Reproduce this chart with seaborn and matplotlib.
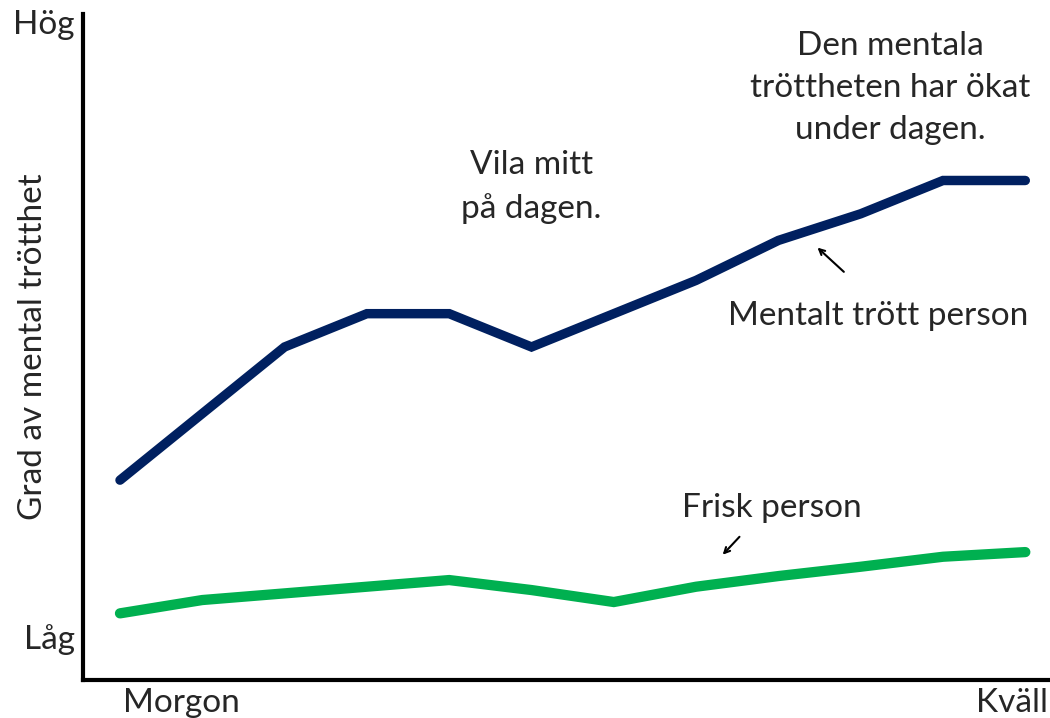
import numpy as np
import pandas as pd
import seaborn as sns
import matplotlib.pyplot as plt

# tidpunkter under dagen (morgon -> kväll)
tid = list(range(12))
trott_person = [30, 40, 50, 55, 55, 50, 55, 60, 66, 70, 75, 75]
frisk_person = [10, 12, 13, 14, 15, 13.5, 11.7, 14, 15.6, 17, 18.5, 19.2]
x_etiketter = ['Morgon', 'Kväll']
y_etiketter = ['Låg', 'Hög']

df = pd.DataFrame({
    'tid': tid * 2,
    'grad': trott_person + frisk_person,
    'person': ['Mentalt trött person'] * 12 + ['Frisk person'] * 12,
})

sns.set_style('white')
plt.rcParams['font.family'] = ['Lato', 'DejaVu Sans']

fig = plt.figure(figsize=(10.5, 7.18), dpi=100)
ax = fig.add_axes([0.079, 0.053, 0.921, 0.9275])

sns.lineplot(data=df, x='tid', y='grad', hue='person',
             palette={'Mentalt trött person': '#002060', 'Frisk person': '#00B050'},
             linewidth=6.8, legend=False, ax=ax, solid_capstyle='round',
             solid_joinstyle='miter')
ax.lines[1].set_linewidth(7.4)

ax.set_xlim(-0.45, 11.3)
ax.set_ylim(0, 100)

for s in ['top', 'right']:
    ax.spines[s].set_visible(False)
for s in ['left', 'bottom']:
    ax.spines[s].set_linewidth(3)
    ax.spines[s].set_color('black')

fs = 24
ax.set_xticks([0.74, 10.84])
ax.set_xticklabels(x_etiketter, fontsize=fs)
ax.set_yticks([6.5, 98.8])
ax.set_yticklabels(y_etiketter, fontsize=fs)
ax.tick_params(length=0, pad=6)
ax.set_xlabel('')
ax.set_ylabel('Grad av mental trötthet', fontsize=fs)
ax.yaxis.set_label_coords(-0.036, 0.5)

ax.text(5.0, 74, 'Vila mitt\npå dagen.', fontsize=fs, ha='center', va='center',
        linespacing=1.5)
ax.text(9.36, 88.9, 'Den mentala\ntröttheten har ökat\nunder dagen.', fontsize=fs,
        ha='center', va='center', linespacing=1.5)
ax.text(9.21, 54.7, 'Mentalt trött person', fontsize=fs, ha='center', va='center')
ax.text(7.92, 25.8, 'Frisk person', fontsize=fs, ha='center', va='center')

ax.annotate('', xy=(8.45, 65.2), xytext=(8.82, 61),
            arrowprops=dict(arrowstyle='->', color='black', lw=1.5))
ax.annotate('', xy=(7.3, 18.5), xytext=(7.55, 21.8),
            arrowprops=dict(arrowstyle='->', color='black', lw=1.5))

fig.savefig('out.png', dpi=100)
